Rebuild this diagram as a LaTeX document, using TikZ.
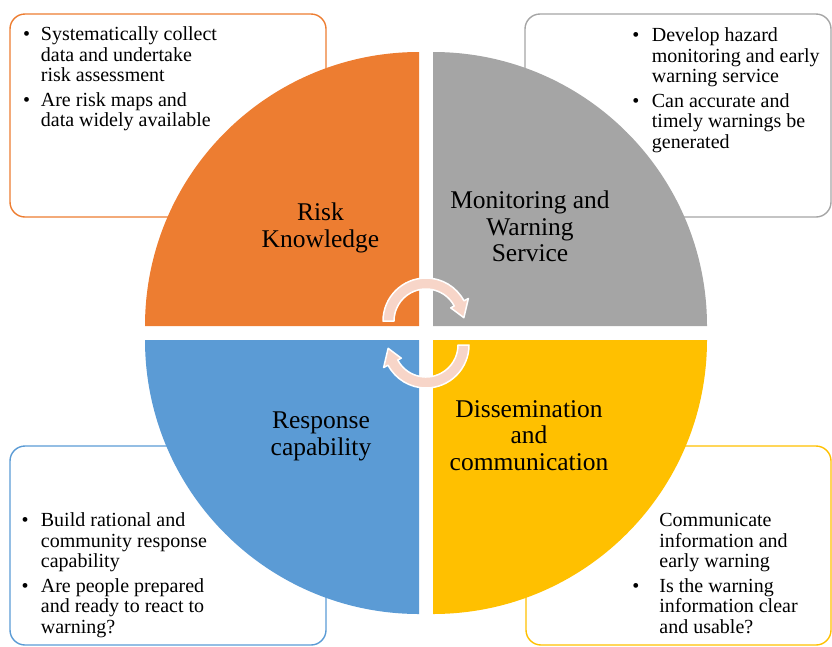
\documentclass[tikz,border=0pt]{standalone}
\usepackage{fontspec}
\setmainfont{Liberation Serif}
\usepackage{array}
\definecolor{riskorange}{HTML}{ED7D31}
\definecolor{watchgray}{HTML}{A5A5A5}
\definecolor{responseblue}{HTML}{5B9BD5}
\definecolor{spreadyellow}{HTML}{FFC000}
\definecolor{cyclepink}{HTML}{F7D5C8}
\tikzset{
  notebox/.style={rounded corners=15pt, line width=1.4pt},
  pillar/.style={font=\fontsize{25.5}{26.5}\selectfont, align=center, anchor=base, inner sep=0pt},
  notes/.style={font=\fontsize{20}{20.5}\selectfont, anchor=base west, inner sep=0pt},
  cycle arrow/.style={fill=cyclepink, draw=white, line width=1.5pt, line join=round},
  cyclearc/.pic={
    \filldraw[cycle arrow] (180:43) arc[start angle=180, end angle=332, radius=43]
      -- (332:48) -- (355:38) -- (332:28) -- (332:32)
      arc[start angle=332, end angle=180, radius=32] -- cycle;
  }
}
\begin{document}
\begin{tikzpicture}[x=1pt, y=-1pt]
  \useasboundingbox (0,0) rectangle (832,646);
  % outlined note boxes behind the disc
  \draw[notebox, draw=riskorange] (10,14) rectangle (326,217);
  \draw[notebox, draw=watchgray] (525,14) rectangle (831,217);
  \draw[notebox, draw=responseblue] (10,446) rectangle (326,645);
  \draw[notebox, draw=spreadyellow] (526,446) rectangle (831,645);
  % four quarters of the disc
  \fill[riskorange] (419,326) -- (145,326) arc[start angle=180, end angle=270, radius=274] -- cycle;
  \fill[watchgray] (433,326) -- (433,52) arc[start angle=270, end angle=360, radius=274] -- cycle;
  \fill[responseblue] (419,340) -- (145,340) arc[start angle=180, end angle=90, radius=274] -- cycle;
  \fill[spreadyellow] (433,340) -- (707,340) arc[start angle=0, end angle=90, radius=274] -- cycle;
  % arrows turning round the centre
  \pic at (426,321) {cyclearc};
  \pic[rotate=180] at (426,345) {cyclearc};
  % labels sit on the baseline of their last line
  \node[pillar] (risk) at (320.5,247.3) {Risk\\Knowledge};
  \node[pillar] (monitor) at (530,261.7) {Monitoring and\\Warning\\Service};
  \node[pillar] (response) at (321,455) {Response\\capability};
  \node[pillar] (spread) at (529,470) {Dissemination\\and\\communication};
  \node[notes] (riskNotes) at (23,40.7) {\begin{tabular}[t]{@{}p{17.7pt}@{}l@{}}
    • & Systematically collect\\ & data and undertake\\ & risk assessment\\[4pt]
    • & Are risk maps and\\ & data widely available
  \end{tabular}};
  \node[notes] (monitorNotes) at (632.2,41.7) {\begin{tabular}[t]{@{}p{19.5pt}@{}l@{}}
    • & Develop hazard\\ & monitoring and early\\ & warning service\\[4pt]
    • & Can accurate and\\ & timely warnings be\\ & generated
  \end{tabular}};
  \node[notes] (responseNotes) at (21.5,526.7) {\begin{tabular}[t]{@{}p{19.2pt}@{}l@{}}
    • & Build rational and\\ & community response\\ & capability\\[4pt]
    • & Are people prepared\\ & and ready to react to\\ & warning?
  \end{tabular}};
  \node[notes] (spreadNotes) at (632.2,526.7) {\begin{tabular}[t]{@{}p{27pt}@{}l@{}}
    & Communicate\\ & information and\\ & early warning\\[4pt]
    • & Is the warning\\ & information clear\\ & and usable?
  \end{tabular}};
\end{tikzpicture}
\end{document}
